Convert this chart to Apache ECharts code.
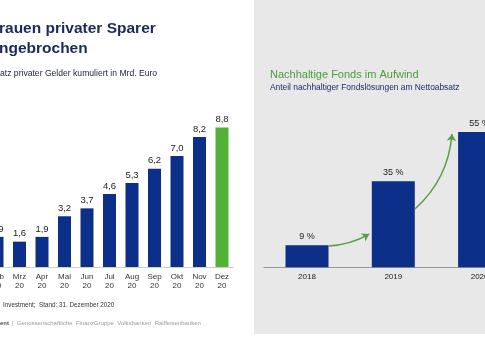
<!DOCTYPE html>
<html>
<head>
<meta charset="utf-8">
<script src="https://cdn.jsdelivr.net/npm/echarts@6/dist/echarts.min.js"></script>
<style>
html,body{margin:0;padding:0;background:#fff;}
#c{width:485px;height:337px;}
</style>
</head>
<body>
<div id="c"></div>
<script>
// ---- data ----
const monthLabels = ['Feb','Mrz','Apr','Mai','Jun','Jul','Aug','Sep','Okt','Nov','Dez'];
const yearSuffix = '20';
const cumulativeSales = [1.9, 1.6, 1.9, 3.2, 3.7, 4.6, 5.3, 6.2, 7.0, 8.2, 8.8];
const fundYears = ['2018','2019','2020'];
const sustainableShare = [9, 35, 55];
// arrow annotation paths in data space of the right chart: [x(category position), y(%)]
const arrowPaths = [
  [[0.25, 8.7], [0.72, 13.5]],
  [[1.25, 23.7], [1.68, 54.2]]
];

const NAVY = '#0c2f8a';
const GREEN = '#52b236';
const ARROW = '#5a9e48';

const chart = echarts.init(document.getElementById('c'), null, {renderer:'canvas'});

const leftData = cumulativeSales.map((v, i) => ({
  value: v,
  itemStyle: { color: i === cumulativeSales.length - 1 ? GREEN : NAVY }
}));

const option = {
  animation: false,
  backgroundColor: '#ffffff',
  graphic: [
    { type:'rect', z:-10, shape:{x:254, y:0, width:231, height:334}, style:{fill:'#e8e8e8'} },
    { type:'text', left:-1, top:21, style:{text:'rauen privater Sparer', font:'bold 15.5px "Liberation Sans", Arial, sans-serif', fill:'#1a2a5c'} },
    { type:'text', left:-1, top:41, style:{text:'ngebrochen', font:'bold 15.5px "Liberation Sans", Arial, sans-serif', fill:'#1a2a5c'} },
    { type:'text', left:0, top:69, style:{text:'atz privater Gelder kumuliert in Mrd. Euro', font:'8.6px "Liberation Sans", Arial, sans-serif', fill:'#1b2238'} },
    { type:'text', left:3, top:302, style:{text:'Investment;  Stand: 31. Dezember 2020', font:'6.3px "Liberation Sans", Arial, sans-serif', fill:'#333333'} },
    { type:'text', left:0, top:320, style:{text:'ent', font:'bold 6px "Liberation Sans", Arial, sans-serif', fill:'#555555'} },
    { type:'text', left:12, top:320, style:{text:'|  Genossenschaftliche  FinanzGruppe  Volksbanken  Raiffeisenbanken', font:'6px "Liberation Sans", Arial, sans-serif', fill:'#9a9a9a'} },
    { type:'text', left:270, top:69, style:{text:'Nachhaltige Fonds im Aufwind', font:'11px "Liberation Sans", Arial, sans-serif', fill:'#4a9e3a'} },
    { type:'text', left:270, top:84, style:{text:'Anteil nachhaltiger Fondslösungen am Nettoabsatz', font:'8.4px "Liberation Sans", Arial, sans-serif', fill:'#1b2d6b'} }
  ],
  grid: [
    { left:-14.25, top:108.5, width:247.5, height:158.5, containLabel:false, outerBoundsMode:'none' },
    { left:263.85, top:119.7, width:258.9, height:147.6, containLabel:false, outerBoundsMode:'none' }
  ],
  xAxis: [
    {
      type:'category', gridIndex:0,
      data: monthLabels.map(m => m + '\n' + yearSuffix),
      axisLine:{ show:true, lineStyle:{ color:'#cfcfcf', width:1 } },
      axisTick:{ show:false },
      axisLabel:{ interval:0, margin:5, fontSize:8, lineHeight:9, color:'#333', fontFamily:'"Liberation Sans", Arial, sans-serif', hideOverlap:false }
    },
    {
      type:'category', gridIndex:1,
      data: fundYears,
      axisLine:{ show:true, lineStyle:{ color:'#999999', width:1 } },
      axisTick:{ show:false },
      axisLabel:{ interval:0, margin:5, fontSize:8, color:'#222', fontFamily:'"Liberation Sans", Arial, sans-serif' }
    },
    {
      type:'value', gridIndex:1, min:-0.5, max:2.5, show:false
    }
  ],
  yAxis: [
    { type:'value', gridIndex:0, min:0, max:10, show:false, splitLine:{show:false} },
    { type:'value', gridIndex:1, min:0, max:60, show:false, splitLine:{show:false} }
  ],
  series: [
    {
      type:'bar', xAxisIndex:0, yAxisIndex:0,
      data: leftData,
      barWidth: 13,
      label:{
        show:true, position:'top', distance:3,
        fontSize:9.5, color:'#222', fontFamily:'"Liberation Sans", Arial, sans-serif',
        formatter: p => p.value.toFixed(1).replace('.', ',')
      }
    },
    {
      type:'bar', xAxisIndex:1, yAxisIndex:1,
      data: sustainableShare,
      barWidth: 43,
      itemStyle:{ color: NAVY },
      label:{
        show:true, position:'top', distance:4,
        fontSize:9, color:'#222', fontFamily:'"Liberation Sans", Arial, sans-serif',
        formatter: p => p.value + ' %'
      }
    },
    {
      type:'lines', coordinateSystem:'cartesian2d', xAxisIndex:2, yAxisIndex:1,
      z: 5,
      symbol:['none','arrow'], symbolSize:7,
      lineStyle:{ color:ARROW, width:1.5, opacity:1 },
      data: arrowPaths.map((c, i) => ({
        coords: c,
        lineStyle:{ curveness: i === 0 ? -0.12 : -0.2 }
      }))
    }
  ]
};
chart.setOption(option);
</script>
</body>
</html>
